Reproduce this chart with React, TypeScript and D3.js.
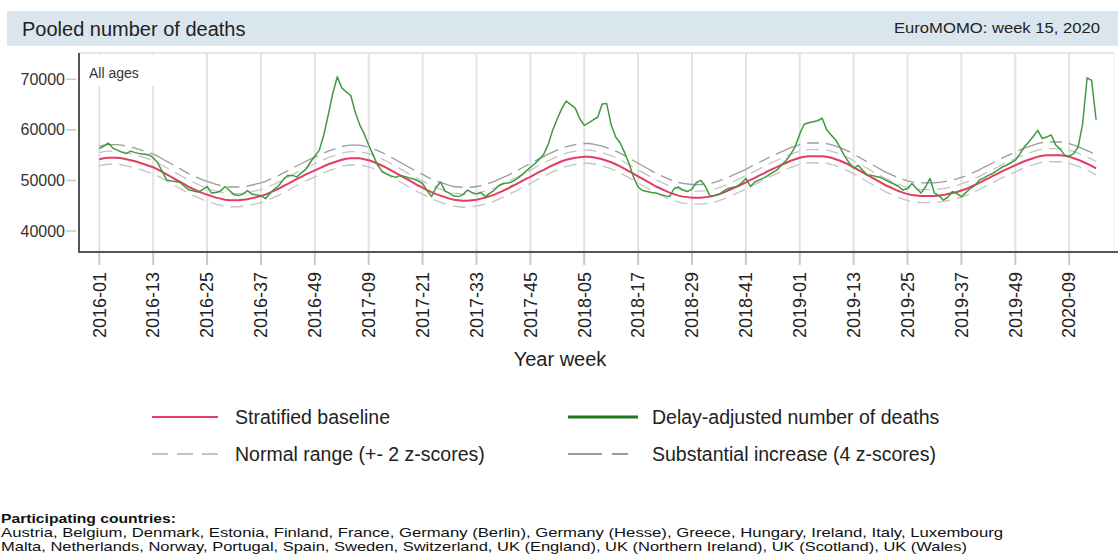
import React from "react";
import * as d3 from "d3";

// ---- data ----
const YEARS = [2016, 2017, 2018, 2019, 2020];
const WEEKS_PER_YEAR: Record<number, number> = { 2016: 52, 2017: 52, 2018: 52, 2019: 52, 2020: 15 };
const weekLabels: string[] = [];
YEARS.forEach((y) => {
  for (let w = 1; w <= WEEKS_PER_YEAR[y]; w++) weekLabels.push(`${y}-${String(w).padStart(2, "0")}`);
});

const tickLabels = [
  "2016-01", "2016-13", "2016-25", "2016-37", "2016-49", "2017-09", "2017-21", "2017-33", "2017-45",
  "2018-05", "2018-17", "2018-29", "2018-41", "2019-01", "2019-13", "2019-25", "2019-37", "2019-49", "2020-09",
];
const yTicks = [40000, 50000, 60000, 70000];

const deaths = [
  56300, 56800, 57400, 56400, 56000, 55600, 55300, 55800, 55500, 55300, 55200, 55100, 54500, 53500, 51800, 50100,
  49900, 49800, 49600, 48800, 48100, 47900, 47700, 48200, 48800, 47500, 47600, 47900, 48800, 48000, 47200, 47000,
  47300, 48000, 47300, 47100, 47000, 46400, 47400, 48300, 49000, 50200, 51000, 51000, 50700, 51500, 52200, 53600,
  54800, 56000, 59000, 63000, 67200, 70500, 68300, 67500, 66800, 63500, 61000, 59200, 57000, 55000, 53000, 51800,
  51300, 50900, 50600, 51000, 50800, 50500, 50300, 49900, 49400, 48000, 46800, 48600, 49700, 47900, 47500, 46900,
  46800, 47200, 48100, 47600, 47300, 47600, 46800, 47500, 48100, 49000, 49400, 49500, 49750, 50300, 51000, 51800,
  52600, 53300, 54200, 55200, 57200, 60000, 62200, 64200, 65700, 65000, 64300, 62200, 60900, 61400, 62000, 62500,
  65100, 65200, 61000, 58600, 57400, 55500, 53300, 50600, 48700, 48000, 47800, 47600, 47500, 47200, 47000, 46800,
  48400, 48700, 48100, 47800, 48300, 49600, 50000, 48800, 46900, 47000, 47200, 47900, 48400, 48600, 48800, 49500,
  50400, 48800, 49700, 50100, 50500, 51000, 51600, 52100, 53100, 54000, 55200, 56700, 59200, 61100, 61400, 61600,
  61800, 62300, 60000, 59000, 58000, 56500, 54800, 53500, 52400, 53000, 52000, 51100, 51000, 50800, 50600, 50100,
  49700, 49300, 48800, 48100, 48400, 49400, 48400, 47500, 48700, 50400, 47500, 47000, 46100, 46700, 47800, 47400,
  46800, 47600, 48400, 49000, 50100, 50500, 51000, 51400, 52000, 52600, 53000, 53500, 54000, 55200, 56600, 57600,
  58700, 59900, 58300, 58600, 59000, 57000, 56200, 55000, 54800, 55300, 56600, 61200, 70300, 69800, 62000,
];

const baseline = [
  54200, 54400, 54500, 54500, 54500, 54400, 54200, 54000, 53800, 53500, 53200, 52900, 52600, 52200, 51700, 51200,
  50700, 50200, 49700, 49200, 48700, 48300, 47900, 47500, 47200, 46900, 46600, 46400, 46200, 46100, 46100, 46100,
  46200, 46300, 46500, 46700, 46900, 47200, 47600, 48000, 48400, 48900, 49300, 49800, 50300, 50700, 51200, 51600,
  52000, 52400, 52800, 53200, 53500, 53800, 54100, 54300, 54400, 54400, 54400, 54200, 54000, 53700, 53300, 52900,
  52500, 52000, 51500, 51000, 50500, 50000, 49500, 49000, 48600, 48100, 47700, 47300, 47000, 46700, 46400, 46200,
  46100, 46000, 46000, 46100, 46200, 46400, 46600, 46900, 47200, 47600, 48000, 48400, 48900, 49300, 49800, 50300,
  50700, 51200, 51700, 52100, 52600, 53000, 53400, 53800, 54100, 54300, 54500, 54600, 54700, 54700, 54600, 54400,
  54200, 53900, 53600, 53200, 52800, 52300, 51800, 51300, 50800, 50300, 49800, 49300, 48800, 48400, 48000, 47600,
  47300, 47000, 46800, 46700, 46600, 46600, 46600, 46700, 46800, 47000, 47300, 47600, 48000, 48400, 48800, 49200,
  49600, 50100, 50500, 51000, 51400, 51900, 52300, 52700, 53100, 53500, 53900, 54200, 54500, 54700, 54800, 54800,
  54800, 54800, 54700, 54500, 54200, 53900, 53500, 53100, 52600, 52100, 51600, 51100, 50600, 50100, 49600, 49100,
  48700, 48300, 47900, 47600, 47300, 47100, 47000, 46900, 46900, 46900, 46900, 47000, 47100, 47300, 47500, 47700,
  48000, 48300, 48700, 49100, 49500, 50000, 50400, 50900, 51300, 51800, 52200, 52600, 53000, 53400, 53800, 54100,
  54400, 54700, 54900, 55000, 55000, 55000, 55000, 54900, 54700, 54400, 54100, 53700, 53300, 52900, 52400,
];

const Z_SCORE = 650;

const countriesLine1 =
  "Austria, Belgium, Denmark, Estonia, Finland, France, Germany (Berlin), Germany (Hesse), Greece, Hungary, Ireland, Italy, Luxembourg";
const countriesLine2 =
  "Malta, Netherlands, Norway, Portugal, Spain, Sweden, Switzerland, UK (England), UK (Northern Ireland), UK (Scotland), UK (Wales)";

const FONT = "'Liberation Sans', Arial, sans-serif";
const RED = "#e33d62";
const GREEN = "#3f9a3f";
const LIGHT_GRAY = "#c4c4c4";
const DARK_GRAY = "#9c9c9c";

export default function App() {
  const W = 1118;
  const H = 554;
  const plotLeft = 79;
  const plotTop = 53;
  const plotBottom = 252;
  const plotRight = 1114;

  const x = d3.scalePoint<string>().domain(weekLabels).range([99.3, 1096.1]);
  const y = d3.scaleLinear().domain([35850, 75200]).range([plotBottom, plotTop]);

  const line = d3
    .line<number>()
    .x((_, i) => x(weekLabels[i]) as number)
    .y((d) => y(d));

  const upperNormal = baseline.map((b) => b + 2 * Z_SCORE);
  const lowerNormal = baseline.map((b) => b - 2 * Z_SCORE);
  const substantial = baseline.map((b) => b + 4 * Z_SCORE);

  return (
    <svg
      width={W}
      height={H}
      style={{ position: "absolute", left: 0, top: 0, background: "#fff" }}
      fontFamily={FONT}
    >
      {/* header */}
      <rect x={7} y={11} width={W - 7} height={35} fill="#d9e6ed" />
      <text x={22} y={36} fontSize={20} fill="#222">
        Pooled number of deaths
      </text>
      <text x={1100} y={33} fontSize={15} fill="#222" textAnchor="end" textLength={206} lengthAdjust="spacingAndGlyphs">
        EuroMOMO: week 15, 2020
      </text>

      {/* frame */}
      <line x1={plotLeft} x2={plotRight} y1={plotTop} y2={plotTop} stroke="#e6e6e6" strokeWidth={2} />
      <line x1={plotRight} x2={plotRight} y1={plotTop} y2={plotBottom} stroke="#eeeeee" strokeWidth={1} />

      {/* vertical gridlines + ticks */}
      {tickLabels.map((t) => {
        const tx = x(t) as number;
        return (
          <g key={t}>
            <line x1={tx} x2={tx} y1={plotTop} y2={plotBottom} stroke="#e2e2e2" strokeWidth={2} />
            <line x1={tx} x2={tx} y1={plotBottom} y2={265} stroke="#c8c8c8" strokeWidth={2} />
            <text
              transform={`translate(${tx},272) rotate(-90)`}
              textAnchor="end"
              dy="0.35em"
              fontSize={18}
              fill="#222"
            >
              {t}
            </text>
          </g>
        );
      })}

      {/* y axis ticks */}
      {yTicks.map((v) => (
        <g key={v}>
          <line x1={66} x2={76} y1={y(v)} y2={y(v)} stroke="#c8c8c8" strokeWidth={1.5} />
          <text x={65} y={y(v)} dy="0.35em" textAnchor="end" fontSize={16} fill="#333">
            {v}
          </text>
        </g>
      ))}

      {/* All ages label */}
      <rect x={82} y={55} width={78} height={31} fill="#fff" />
      <text x={89} y={78} fontSize={14} fill="#333">
        All ages
      </text>

      {/* series */}
      <path d={line(substantial) || ""} fill="none" stroke={DARK_GRAY} strokeWidth={1.3} strokeDasharray="26 7 12 7" />
      <path d={line(upperNormal) || ""} fill="none" stroke={LIGHT_GRAY} strokeWidth={1.3} strokeDasharray="13 7" />
      <path d={line(lowerNormal) || ""} fill="none" stroke={LIGHT_GRAY} strokeWidth={1.3} strokeDasharray="13 7" />
      <path d={line(baseline) || ""} fill="none" stroke={RED} strokeWidth={2} />
      <path d={line(deaths) || ""} fill="none" stroke={GREEN} strokeWidth={1.5} strokeLinejoin="round" />

      {/* axes */}
      <line x1={plotLeft} x2={plotLeft} y1={plotTop} y2={plotBottom + 1} stroke="#555" strokeWidth={2} />
      <line x1={plotLeft} x2={W} y1={plotBottom} y2={plotBottom} stroke="#555" strokeWidth={2} />

      {/* x axis title */}
      <text x={560} y={366} textAnchor="middle" fontSize={20} fill="#222">
        Year week
      </text>

      {/* legend */}
      <line x1={152} x2={218} y1={417} y2={417} stroke={RED} strokeWidth={2} />
      <text x={235} y={424} fontSize={19.5} fill="#222">
        Stratified baseline
      </text>
      <line x1={568} x2={638} y1={417} y2={417} stroke="#1e7b1e" strokeWidth={3} />
      <text x={652} y={424} fontSize={19.5} fill="#222">
        Delay-adjusted number of deaths
      </text>
      <line x1={152} x2={218} y1={454} y2={454} stroke={LIGHT_GRAY} strokeWidth={2} strokeDasharray="16 9" />
      <text x={235} y={461} fontSize={19.5} fill="#222">
        Normal range (+- 2 z-scores)
      </text>
      <line x1={568} x2={638} y1={454} y2={454} stroke={DARK_GRAY} strokeWidth={2} strokeDasharray="34 10 16 10" />
      <text x={652} y={461} fontSize={19.5} fill="#222">
        Substantial increase (4 z-scores)
      </text>

      {/* footer */}
      <text x={1} y={523} fontSize={13} fontWeight="bold" fill="#111" textLength={175} lengthAdjust="spacingAndGlyphs">
        Participating countries:
      </text>
      <text x={1} y={537} fontSize={13} fill="#111" textLength={1002} lengthAdjust="spacingAndGlyphs">
        {countriesLine1}
      </text>
      <text x={1} y={551} fontSize={13} fill="#111" textLength={966} lengthAdjust="spacingAndGlyphs">
        {countriesLine2}
      </text>
    </svg>
  );
}
